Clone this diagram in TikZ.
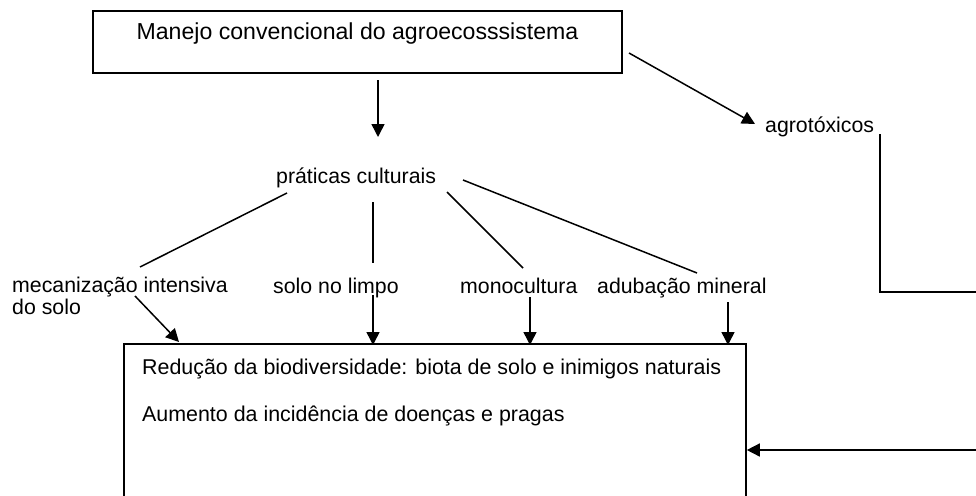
\documentclass[tikz,border=0pt]{standalone}
\usepackage{fontspec}
\setmainfont{Liberation Sans}
\usetikzlibrary{arrows.meta}
\begin{document}
\begin{tikzpicture}[x=1pt,y=-1pt,
  txt/.style={inner sep=0pt, anchor=base west, font=\fontsize{21.3}{21.5}\selectfont},
  box/.style={draw, line width=1.6pt, inner sep=0pt},
  ln/.style={line width=1.5pt},
  arr/.style={ln, -{Triangle[length=13pt,width=13pt]}}]
\useasboundingbox (0,0) rectangle (976,495);
\clip (0,0) rectangle (976,495);
\fill[white] (0,0) rectangle (976,495);
% boxes
\node[box, line width=1.9pt, minimum width=529pt, minimum height=62pt] (top) at (357.5,42) {};
\node[txt, anchor=base, font=\fontsize{23.1}{26}\selectfont] (toptext) at (357.5,40) {Manejo convencional do agroecosssistema};
\node[box, minimum width=622pt, minimum height=256pt] (bot) at (435,472) {};
\node[txt, font=\fontsize{21.4}{24}\selectfont] (bt1) at (142,374) {Redução da biodiversidade: biota de solo e inimigos naturais};
\node[txt, font=\fontsize{21.4}{24}\selectfont] (bt2) at (142,421) {Aumento da incidência de doenças e pragas};
% labels
\node[txt] (pc) at (276,183) {práticas culturais};
\node[txt] (ag) at (765,132) {agrotóxicos};
\node[txt, align=left] (mec) at (12,314) {mecanização intensiva\\do solo};
\node[txt] (sl) at (273,293) {solo no limpo};
\node[txt] (mo) at (460,293) {monocultura};
\node[txt] (ad) at (597,293) {adubação mineral};
% coordinates
\coordinate (topS) at (378,80);
\coordinate (pcN) at (378,137);
\coordinate (topE) at (629,53);
\coordinate (agW) at (755,124);
\coordinate (pc1) at (287,193);
\coordinate (mecN) at (140,267);
\coordinate (pc2) at (373,202);
\coordinate (slN) at (373,263);
\coordinate (pc3) at (447,192);
\coordinate (moN) at (523,268);
\coordinate (pc4) at (463,180);
\coordinate (adN) at (697,273);
\coordinate (mecS) at (135,296);
\coordinate (b1) at (179,342);
\coordinate (slS) at (373,295);
\coordinate (b2) at (373,345);
\coordinate (moS) at (530,297);
\coordinate (b3) at (530,345);
\coordinate (adS) at (728,302);
\coordinate (b4) at (728,345);
\coordinate (agE) at (880,134);
\coordinate (c1) at (1000,292);
\coordinate (c2) at (1000,450);
\coordinate (bE) at (bot.east |- 0,450);
% connectors
\draw[arr] (topS) -- (pcN);
\draw[arr] (topE) -- (agW);
\draw[ln] (pc1) -- (mecN);
\draw[ln] (pc2) -- (slN);
\draw[ln] (pc3) -- (moN);
\draw[ln] (pc4) -- (adN);
\draw[arr] (mecS) -- (b1);
\draw[arr] (slS) -- (b2);
\draw[arr] (moS) -- (b3);
\draw[arr] (adS) -- (b4);
\draw[arr] (agE) |- (c1) -- (c2) -- (bE);
\end{tikzpicture}
\end{document}
